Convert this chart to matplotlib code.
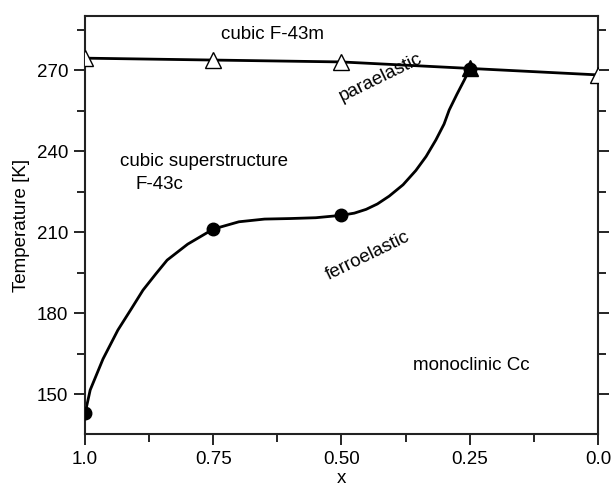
import matplotlib.pyplot as plt
from matplotlib.ticker import MultipleLocator, FixedLocator

plt.rcParams["font.family"] = ["Liberation Sans", "DejaVu Sans"]

# paraelastic boundary (cubic F-43m / F-43c)
para_x = [1.0, 0.75, 0.50, 0.25, 0.0]
para_t = [274.4, 273.7, 273.0, 270.6, 268.2]

# ferroelastic boundary: measured points
ferro_x = [1.0, 0.75, 0.50, 0.25]
ferro_t = [142.8, 211.1, 216.2, 270.4]

# ferroelastic boundary: drawn curve
curve_x = [1.0, 0.99, 0.965, 0.936, 0.91, 0.887, 0.862, 0.84, 0.80, 0.75,
           0.70, 0.65, 0.60, 0.55, 0.50, 0.475, 0.452, 0.43, 0.407, 0.38,
           0.355, 0.335, 0.316, 0.30, 0.29, 0.275, 0.26, 0.25]
curve_t = [142.8, 151.5, 163.0, 173.7, 181.5, 188.5, 194.5, 199.6, 205.5, 211.1,
           213.8, 214.8, 215.0, 215.3, 216.2, 217.0, 218.4, 220.4, 223.3, 227.5,
           232.8, 238.0, 244.1, 250.0, 255.2, 261.0, 266.5, 270.4]

fs = 13.5

fig = plt.figure(figsize=(6.12, 4.86), dpi=100)
ax = fig.add_axes([0.139, 0.107, 0.838, 0.860])

ax.plot(para_x, para_t, color="black", lw=2.0, zorder=2)
ax.plot(curve_x, curve_t, color="black", lw=2.0, zorder=2)
ax.plot(para_x[:3] + para_x[4:], para_t[:3] + para_t[4:], ls="none", marker="^",
        ms=11.5, mfc="white", mec="black", mew=1.0, zorder=3)
ax.plot(para_x[3], para_t[3], ls="none", marker="^", ms=11, mfc="black", mec="black", zorder=3)
ax.plot(ferro_x, ferro_t, ls="none", marker="o", ms=9, color="black", zorder=4)

ax.set_xlim(1.0, 0.0)
ax.set_ylim(135.2, 290)
ax.xaxis.set_major_locator(FixedLocator([1.0, 0.75, 0.5, 0.25, 0.0]))
ax.set_xticklabels(["1.0", "0.75", "0.50", "0.25", "0.0"])
ax.xaxis.set_minor_locator(FixedLocator([0.875, 0.625, 0.375, 0.125]))
ax.yaxis.set_major_locator(MultipleLocator(30))
ax.yaxis.set_minor_locator(MultipleLocator(15))

ax.tick_params(which="both", direction="out", labelsize=fs, width=1.2, colors="black")
ax.tick_params(which="major", length=8, pad=4)
ax.tick_params(which="minor", length=6)
ax.tick_params(axis="y", which="both", right=True, labelright=False)
for s in ax.spines.values():
    s.set_linewidth(1.5)
    s.set_color("#222222")

ax.set_xlabel("x", fontsize=fs, labelpad=2)
ax.set_ylabel("Temperature [K]", fontsize=fs, labelpad=5)

ax.text(0.634, 283, "cubic F-43m", fontsize=fs, ha="center", va="center")
ax.text(0.423, 267.4, "paraelastic", fontsize=fs, ha="center", va="center", rotation=26)
ax.text(0.932, 236.3, "cubic superstructure", fontsize=fs, ha="left", va="center")
ax.text(0.901, 227.5, "F-43c", fontsize=fs, ha="left", va="center")
ax.text(0.448, 201.1, "ferroelastic", fontsize=fs, ha="center", va="center", rotation=26)
ax.text(0.246, 160.7, "monoclinic Cc", fontsize=fs, ha="center", va="center")

fig.savefig("out.png", dpi=100)
